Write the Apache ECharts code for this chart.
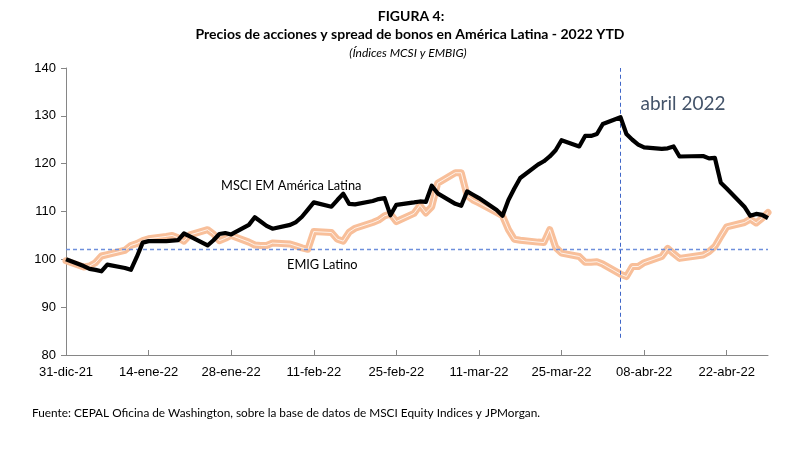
<!DOCTYPE html>
<html>
<head>
<meta charset="utf-8">
<script src="https://cdn.jsdelivr.net/npm/echarts@6/dist/echarts.min.js"></script>
<style>
html,body{margin:0;padding:0;background:#fff;}
#chart{width:809px;height:465px;}
</style>
</head>
<body>
<div id="chart"></div>
<script>
// Trading days, counted in calendar days from 31-dic-21
const tradingDays = [0,
  3,4,5,6,7, 10,11,12,13,14, 17,18,19,20,21, 24,25,26,27,28,
  31,32,33,34,35, 38,39,40,41,42, 45,46,47,48,49, 52,53,54,55,56,
  59,60,61,62,63, 66,67,68,69,70, 73,74,75,76,77, 80,81,82,83,84,
  87,88,89,90,91, 94,95,96,97,98, 101,102,103,104, 108,109,110,111,112,
  115,116,117,118,119];

const msciLatam = [100,
  98.6,98.0,97.8,97.5,98.9, 98.2,97.8,100.5,103.5,103.8, 103.8,103.9,104.0,105.4,104.8, 102.9,104.0,105.3,105.5,105.2,
  107.2,108.8,107.9,107.0,106.4, 107.2,107.8,108.9,110.4,111.9, 111.0,112.4,113.7,111.6,111.5, 112.2,112.6,112.8,109.2,111.4,
  111.9,112.1,112.0,115.4,113.8, 111.6,111.2,114.2,113.5,112.8, 110.3,109.1,112.4,114.8,117.0, 119.8,120.5,121.5,122.8,124.9,
  123.6,125.8,125.8,126.2,128.3, 129.7,126.2,125.0,124.0,123.4, 123.1,123.2,123.6,121.5, 121.6,121.1,121.2,116.0,114.8,
  111.0,109.1,109.5,109.3,108.6];

const embigLatino = [99.7,
  98.4,98.6,99.3,100.7,101.0, 101.9,102.9,103.3,103.9,104.3, 104.8,105.0,104.5,103.8,105.1, 106.2,105.3,103.9,104.4,105.0,
  103.6,103.0,102.9,102.9,103.4, 103.2,102.8,102.4,102.1,105.8, 105.6,104.2,103.8,105.7,106.5, 107.7,108.2,109.1,109.5,107.9,
  109.6,111.3,109.7,111.0,115.9, 118.1,118.1,113.3,112.4,111.8, 109.8,109.1,106.2,104.2,104.0, 103.6,103.5,106.2,102.5,101.3,
  100.6,99.4,99.4,99.5,99.0, 96.9,96.4,98.5,98.5,99.3, 100.6,102.3,101.2,100.2, 100.9,101.6,102.7,104.8,106.8,
  107.7,108.4,107.6,108.6,109.8];

const tickDays = [0,14,28,42,56,70,84,98,112];
const tickLabels = ['31-dic-21','14-ene-22','28-ene-22','11-feb-22','25-feb-22','11-mar-22','25-mar-22','08-abr-22','22-abr-22'];
const refLevel = 102.2;     // horizontal dashed reference
const aprilDay = 94;        // 04-abr-22 vertical marker
const lastDay = 119;

const msciData = tradingDays.map((d,i)=>[d, msciLatam[i]]);
const embigData = tradingDays.map((d,i)=>[d, embigLatino[i]]);

const chart = echarts.init(document.getElementById('chart'), null, {renderer:'canvas'});
const textFont = 'Lato, "Open Sans", sans-serif';
chart.setOption({
  animation:false,
  backgroundColor:'#fff',
  grid:{left:66, right:41, top:68, bottom:110, containLabel:false},
  xAxis:{
    type:'value', min:0, max:lastDay, interval:14,
    axisLine:{show:true, lineStyle:{color:'#868686', width:1}},
    axisTick:{show:true, inside:true, length:5, lineStyle:{color:'#868686'}, customValues:tickDays},
    axisLabel:{
      customValues:tickDays,
      formatter:(v)=>{const i=tickDays.indexOf(v); return i>=0?tickLabels[i]:'';},
      fontFamily:'"Liberation Sans", Arial, sans-serif', fontSize:13, color:'#000', margin:11
    },
    splitLine:{show:false}
  },
  yAxis:{
    type:'value', min:80, max:140, interval:10,
    axisLine:{show:true, lineStyle:{color:'#868686', width:1}},
    axisTick:{show:true, inside:false, length:5, lineStyle:{color:'#868686'}},
    axisLabel:{fontFamily:'"Liberation Sans", Arial, sans-serif', fontSize:13, color:'#000', margin:10},
    splitLine:{show:false}
  },
  series:[
    {
      name:'ref', type:'line', data:[], silent:true,
      markLine:{
        silent:true, symbol:'none', animation:false, label:{show:false},
        data:[
          [{coord:[0,refLevel], lineStyle:{color:'#6E8FDC', width:1.4}},{coord:[lastDay,refLevel]}],
          [{coord:[aprilDay,83.6]},{coord:[aprilDay,140]}]
        ],
        lineStyle:{type:[4,3], color:'#3F66C8', width:1}
      }
    },
    {
      name:'EMIG Latino', type:'line', data:embigData, showSymbol:false,
      lineStyle:{color:'#F8BF9A', width:7, join:'round', cap:'round'}, z:3
    },
    {
      name:'EMIG Latino inner', type:'line', data:embigData, showSymbol:false,
      lineStyle:{color:'#ffffff', width:0.8, join:'round'}, z:4
    },
    {
      name:'MSCI EM América Latina', type:'line', data:msciData, showSymbol:false,
      lineStyle:{color:'#000000', width:4.2, join:'round'}, z:5
    }
  ],
  graphic:[
    {type:'text', style:{text:'FIGURA 4:', font:'bold 14px '+textFont, fill:'#000', textAlign:'center', textVerticalAlign:'middle'}, x:411, y:16},
    {type:'text', style:{text:'Precios de acciones y spread de bonos en América Latina - 2022 YTD', font:'bold 14px '+textFont, fill:'#000', textAlign:'center', textVerticalAlign:'middle'}, x:410, y:34},
    {type:'text', style:{text:'(Índices MCSI y EMBIG)', font:'italic 12px '+textFont, fill:'#000', textAlign:'center', textVerticalAlign:'middle'}, x:408, y:53},
    {type:'text', style:{text:'abril 2022', font:'19px '+textFont, fill:'#44546A', textAlign:'center', textVerticalAlign:'middle'}, x:683, y:104},
    {type:'text', style:{text:'MSCI EM América Latina', font:'12.8px '+textFont, fill:'#000', textAlign:'left', textVerticalAlign:'middle'}, x:221, y:186},
    {type:'text', style:{text:'EMIG Latino', font:'12.8px '+textFont, fill:'#000', textAlign:'left', textVerticalAlign:'middle'}, x:287, y:265},
    {type:'text', style:{text:'Fuente: CEPAL Oficina de Washington, sobre la base de datos de MSCI Equity Indices y JPMorgan.', font:'11.8px '+textFont, fill:'#000', textAlign:'left', textVerticalAlign:'middle'}, x:32, y:413}
  ]
});
</script>
</body>
</html>
